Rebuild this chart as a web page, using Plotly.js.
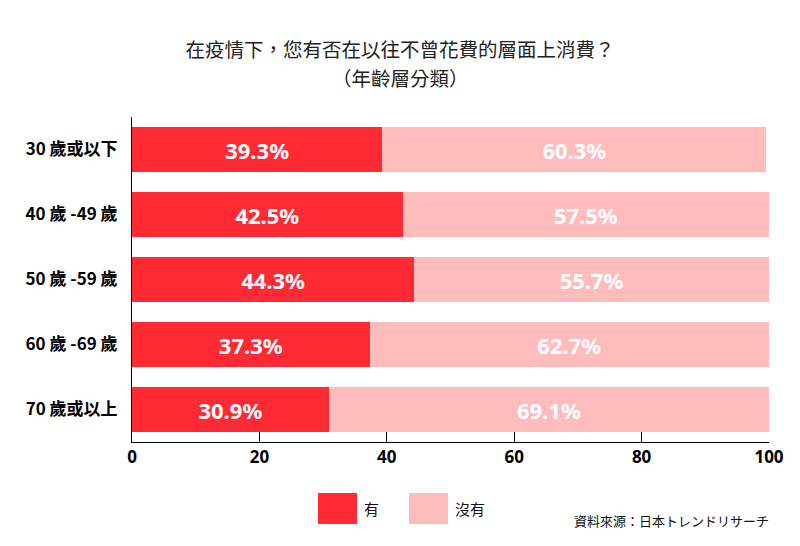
<!DOCTYPE html>
<html>
<head>
<meta charset="utf-8">
<script src="https://cdn.plot.ly/plotly-3.0.1.min.js"></script>
<style>html,body{margin:0;padding:0;background:#fff;}#chart{width:800px;height:546px;}</style>
</head>
<body>
<div id="chart"></div>
<script>
const categories = ["30 歲或以下", "40 歲 -49 歲", "50 歲 -59 歲", "60 歲 -69 歲", "70 歲或以上"];
const yesValues = [39.3, 42.5, 44.3, 37.3, 30.9];
const noValues = [60.3, 57.5, 55.7, 62.7, 69.1];
const seriesNames = ["有", "沒有"];
const xTickValues = [0, 20, 40, 60, 80, 100];
const titleLine1 = "在疫情下，您有否在以往不曾花費的層面上消費？";
const titleLine2 = "（年齡層分類）";
const sourceText = "資料來源：日本トレンドリサーチ";

const colors = ["#ff2a33", "#ffbcbc"];
const cjk = "'Noto Sans CJK TC', 'Noto Sans', sans-serif";
const numFont = "'Noto Sans', 'DejaVu Sans', sans-serif";

function barTrace(name, vals, color) {
  return {
    type: "bar", orientation: "h", name: name,
    y: categories, x: vals,
    marker: {color: color, line: {width: 0}},
    texttemplate: "<b>%{x:.1f}%</b>",
    textposition: "inside", insidetextanchor: "middle",
    textfont: {color: "#ffffff", size: 22, family: numFont},
    constraintext: "none",
    hoverinfo: "x+name", showlegend: false
  };
}

const data = [
  barTrace(seriesNames[0], yesValues, colors[0]),
  barTrace(seriesNames[1], noValues, colors[1])
];

// helpers for paper coords from pixel positions
const PL = 132, PW = 637, PB = 442, PH = 325;
const px = v => (v - PL) / PW;
const py = v => (PB - v) / PH;

const layout = {
  width: 800, height: 546,
  margin: {l: PL, r: 800 - PL - PW, t: PB - PH, b: 546 - PB},
  paper_bgcolor: "#ffffff", plot_bgcolor: "#ffffff",
  barmode: "stack", bargap: 0.31,
  font: {family: cjk, color: "#111111"},
  title: {
    text: titleLine1, x: 0.5, xref: "container", xanchor: "center",
    y: 1 - 50 / 546, yref: "container", yanchor: "middle",
    font: {size: 19.5, family: cjk, color: "#222222"}
  },
  xaxis: {
    range: [0, 100], tickvals: xTickValues, ticktext: xTickValues.map(String),
    showgrid: false, zeroline: false,
    showline: true, linecolor: "#000000", linewidth: 1,
    ticks: "inside", ticklen: 10, tickcolor: "#000000",
    tickfont: {size: 17, family: numFont, color: "#000000", weight: "bold"}
  },
  yaxis: {
    autorange: "reversed", showgrid: false, zeroline: false,
    showline: true, linecolor: "#000000", linewidth: 1,
    ticks: "", ticklabelstandoff: 10,
    tickfont: {size: 17, family: cjk, color: "#000000", weight: "bold"}
  },
  shapes: [
    {type: "rect", xref: "paper", yref: "paper", x0: px(318), x1: px(357), y0: py(524), y1: py(493), fillcolor: colors[0], line: {width: 0}},
    {type: "rect", xref: "paper", yref: "paper", x0: px(409), x1: px(448), y0: py(524), y1: py(493), fillcolor: colors[1], line: {width: 0}}
  ],
  annotations: [
    {xref: "paper", yref: "paper", x: px(400), y: py(78), xanchor: "center", yanchor: "middle", showarrow: false, text: titleLine2, font: {size: 19.5, family: cjk, color: "#222222"}},
    {xref: "paper", yref: "paper", x: px(362), y: py(508), xanchor: "left", yanchor: "middle", showarrow: false, text: seriesNames[0], font: {size: 15, family: cjk, color: "#111111"}},
    {xref: "paper", yref: "paper", x: px(453), y: py(508), xanchor: "left", yanchor: "middle", showarrow: false, text: seriesNames[1], font: {size: 15, family: cjk, color: "#111111"}},
    {xref: "paper", yref: "paper", x: px(771), y: py(520), xanchor: "right", yanchor: "middle", showarrow: false, text: sourceText, font: {size: 13, family: cjk, color: "#111111"}}
  ]
};

Plotly.newPlot("chart", data, layout, {displayModeBar: false, staticPlot: true});
</script>
</body>
</html>
